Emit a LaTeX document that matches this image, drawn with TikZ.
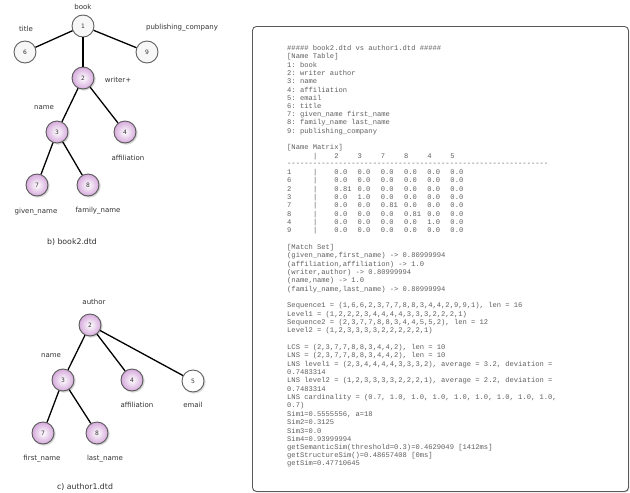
\documentclass[tikz,border=0pt]{standalone}
\usepackage{fontspec}
\setmonofont{Liberation Mono}
\newfontfamily\lblfont{DejaVu Sans}
\usetikzlibrary{shadows}
\definecolor{nodepink}{RGB}{214,170,220}
\definecolor{nodeedge}{RGB}{90,90,90}
\definecolor{monogrey}{RGB}{95,95,95}
\definecolor{lblgrey}{RGB}{50,50,50}
\newcommand\tline[2]{\node[mono] (t#1) at (287,{48+8.32*(#1-1)}) {#2};}
\newcommand\mrow[8]{\tline{#1}{\makebox[26pt][l]{#2}\makebox[21.3pt][l]{|}\makebox[23.2pt][l]{#3}\makebox[23.2pt][l]{#4}\makebox[23.2pt][l]{#5}\makebox[23.2pt][l]{#6}\makebox[23.2pt][l]{#7}\makebox[23.2pt][l]{#8}}}
\tikzset{
  treenode/.style={circle, minimum size=22pt, inner sep=0pt, draw=nodeedge, line width=0.9pt,
    font=\lblfont\fontsize{6}{7}\selectfont, text=lblgrey},
  pinknode/.style={treenode, inner color=white, outer color=nodepink,
    circular drop shadow={shadow xshift=0.8pt, shadow yshift=-0.8pt, opacity=0.35}},
  greynode/.style={treenode, fill=gray!6, draw=gray!75!black},
  whitenode/.style={treenode, fill=white, draw=gray!75!black,
    circular drop shadow={shadow xshift=0.8pt, shadow yshift=-0.8pt, opacity=0.3}},
  lbl/.style={font=\lblfont\fontsize{7}{8}\selectfont, text=lblgrey, inner sep=0pt},
  captxt/.style={font=\lblfont\fontsize{7.8}{9}\selectfont, text=lblgrey, inner sep=0pt},
  treeedge/.style={line width=1.3pt, black},
  mono/.style={font=\ttfamily\fontsize{7.13}{8}\selectfont, text=monogrey, anchor=west, inner sep=0pt},
  textbox/.style={draw=gray!70!black, line width=0.9pt, rounded corners=4pt, fill=white,
    drop shadow={shadow xshift=1pt, shadow yshift=-1pt, opacity=0.3}}
}
\begin{document}
\begin{tikzpicture}[x=1pt,y=-1pt]
\useasboundingbox (0,0) rectangle (630,493);
% ---- tree b) book2.dtd
\node[greynode] (b1) at (83,26) {1};
\node[greynode] (b6) at (25,52) {6};
\node[greynode] (b9) at (147,52) {9};
\node[pinknode] (b2) at (83,78) {2};
\node[pinknode] (b3) at (57,132) {3};
\node[pinknode] (b4) at (125,132) {4};
\node[pinknode] (b7) at (37,185) {7};
\node[pinknode] (b8) at (88,185) {8};
\draw[treeedge] (b1) -- (b6);
\draw[treeedge] (b1) -- (b9);
\draw[treeedge] (b1) -- (b2);
\draw[treeedge] (b2) -- (b3);
\draw[treeedge] (b2) -- (b4);
\draw[treeedge] (b3) -- (b7);
\draw[treeedge] (b3) -- (b8);
\node[lbl] (lbook) at (83,7) {book};
\node[lbl] (ltitle) at (26,29) {title};
\node[lbl] (lpub) at (182,28) {publishing\_company};
\node[lbl] (lwriter) at (118,80) {writer+};
\node[lbl] (lnameb) at (44,108) {name};
\node[lbl] (laffb) at (128,158) {affiliation};
\node[lbl] (lgiven) at (36,212) {given\_name};
\node[lbl] (lfamily) at (98,211) {family\_name};
\node[captxt] (capb) at (72,242) {b) book2.dtd};
% ---- tree c) author1.dtd
\node[pinknode] (c2) at (90,325) {2};
\node[pinknode] (c3) at (63,380) {3};
\node[pinknode] (c4) at (132,380) {4};
\node[whitenode] (c5) at (193,381) {5};
\node[pinknode] (c7) at (43,433) {7};
\node[pinknode] (c8) at (97,433) {8};
\draw[treeedge] (c2) -- (c3);
\draw[treeedge] (c2) -- (c4);
\draw[treeedge] (c2) -- (c5);
\draw[treeedge] (c3) -- (c7);
\draw[treeedge] (c3) -- (c8);
\node[lbl] (lauthor) at (94,302) {author};
\node[lbl] (lnamec) at (51,356) {name};
\node[lbl] (laffc) at (137,405) {affiliation};
\node[lbl] (lemail) at (193,405) {email};
\node[lbl] (lfirst) at (42,459) {first\_name};
\node[lbl] (llast) at (105,459) {last\_name};
\node[captxt] (capc) at (85,487) {c) author1.dtd};
% ---- text box
\node[textbox, minimum width=376pt, minimum height=465pt, anchor=north west] (box) at (252,26) {};
\tline{1}{\#\#\#\#\# book2.dtd vs author1.dtd \#\#\#\#\#}
\tline{2}{[Name Table]}
\tline{3}{1: book}
\tline{4}{2: writer author}
\tline{5}{3: name}
\tline{6}{4: affiliation}
\tline{7}{5: email}
\tline{8}{6: title}
\tline{9}{7: given\_name first\_name}
\tline{10}{8: family\_name last\_name}
\tline{11}{9: publishing\_company}
\tline{13}{[Name Matrix]}
\mrow{14}{}{2}{3}{7}{8}{4}{5}
\tline{15}{-------------------------------------------------------------}
\mrow{16}{1}{0.0}{0.0}{0.0}{0.0}{0.0}{0.0}
\mrow{17}{6}{0.0}{0.0}{0.0}{0.0}{0.0}{0.0}
\mrow{18}{2}{0.81}{0.0}{0.0}{0.0}{0.0}{0.0}
\mrow{19}{3}{0.0}{1.0}{0.0}{0.0}{0.0}{0.0}
\mrow{20}{7}{0.0}{0.0}{0.81}{0.0}{0.0}{0.0}
\mrow{21}{8}{0.0}{0.0}{0.0}{0.81}{0.0}{0.0}
\mrow{22}{4}{0.0}{0.0}{0.0}{0.0}{1.0}{0.0}
\mrow{23}{9}{0.0}{0.0}{0.0}{0.0}{0.0}{0.0}
\tline{25}{[Match Set]}
\tline{26}{(given\_name,first\_name) -> 0.80999994}
\tline{27}{(affiliation,affiliation) -> 1.0}
\tline{28}{(writer,author) -> 0.80999994}
\tline{29}{(name,name) -> 1.0}
\tline{30}{(family\_name,last\_name) -> 0.80999994}
\tline{32}{Sequence1 = (1,6,6,2,3,7,7,8,8,3,4,4,2,9,9,1), len = 16}
\tline{33}{Level1 = (1,2,2,2,3,4,4,4,4,3,3,3,2,2,2,1)}
\tline{34}{Sequence2 = (2,3,7,7,8,8,3,4,4,5,5,2), len = 12}
\tline{35}{Level2 = (1,2,3,3,3,3,2,2,2,2,2,1)}
\tline{37}{LCS = (2,3,7,7,8,8,3,4,4,2), len = 10}
\tline{38}{LNS = (2,3,7,7,8,8,3,4,4,2), len = 10}
\tline{39}{LNS level1 = (2,3,4,4,4,4,3,3,3,2), average = 3.2, deviation =}
\tline{40}{0.7483314}
\tline{41}{LNS level2 = (1,2,3,3,3,3,2,2,2,1), average = 2.2, deviation =}
\tline{42}{0.7483314}
\tline{43}{LNS cardinality = (0.7, 1.0, 1.0, 1.0, 1.0, 1.0, 1.0, 1.0, 1.0,}
\tline{44}{0.7)}
\tline{45}{Sim1=0.5555556, a=18}
\tline{46}{Sim2=0.3125}
\tline{47}{Sim3=0.0}
\tline{48}{Sim4=0.93999994}
\tline{49}{getSemanticSim(threshold=0.3)=0.4629049 [1412ms]}
\tline{50}{getStructureSim()=0.48657408 [0ms]}
\tline{51}{getSim=0.47710645}
\end{tikzpicture}
\end{document}
